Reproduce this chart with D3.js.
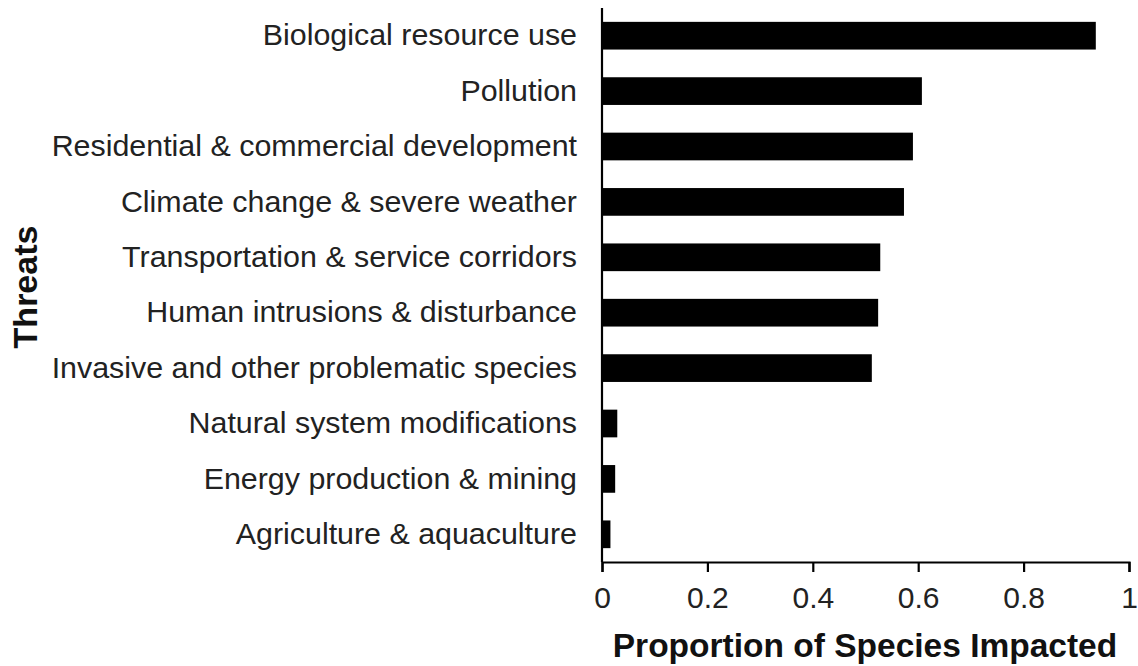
<!DOCTYPE html>
<html>
<head>
<meta charset="utf-8">
<script src="https://cdn.jsdelivr.net/npm/d3@7"></script>
<style>
  body { margin: 0; background: #fff; }
  text { font-family: "Liberation Sans", Arial, sans-serif; }
</style>
</head>
<body>
<svg id="svg" width="1138" height="666"></svg>
<script>
// threats, top to bottom
const threats = [
  "Biological resource use",
  "Pollution",
  "Residential & commercial development",
  "Climate change & severe weather",
  "Transportation & service corridors",
  "Human intrusions & disturbance",
  "Invasive and other problematic species",
  "Natural system modifications",
  "Energy production & mining",
  "Agriculture & aquaculture"
];
const proportion = [0.937, 0.607, 0.590, 0.573, 0.528, 0.524, 0.512, 0.029, 0.025, 0.016];
const xTicks = [0, 0.2, 0.4, 0.6, 0.8, 1];

const margin = { top: 8, right: 9, bottom: 104, left: 602 };
const width = 1138, height = 666;

const svg = d3.select("#svg");

const x = d3.scaleLinear().domain([0, 1]).range([margin.left, width - margin.right]);
const y = d3.scaleBand().domain(threats)
  .range([margin.top, height - margin.bottom])
  .paddingInner(0.5).paddingOuter(0.25);

// bars
svg.selectAll("rect")
  .data(threats)
  .enter()
  .append("rect")
  .attr("x", x(0))
  .attr("y", d => y(d))
  .attr("width", (d, i) => x(proportion[i]) - x(0))
  .attr("height", y.bandwidth())
  .attr("fill", "#000");

// x axis
const xAxis = svg.append("g")
  .attr("transform", `translate(0,${height - margin.bottom})`)
  .call(d3.axisBottom(x).tickValues(xTicks).tickFormat(d3.format("~g"))
    .tickSizeInner(10).tickSizeOuter(10).tickPadding(15));
xAxis.selectAll("path, line").attr("stroke", "#000").attr("stroke-width", 2.2);
xAxis.selectAll("text").attr("font-size", 30).attr("fill", "#222");

// y axis
const yAxis = svg.append("g")
  .attr("transform", `translate(${margin.left},0)`)
  .call(d3.axisLeft(y).tickSize(0).tickPadding(25));
yAxis.select(".domain").attr("d", `M0,${margin.top}V${height - margin.bottom}`)
  .attr("stroke", "#000").attr("stroke-width", 2.2);
yAxis.selectAll("text").attr("font-size", 30.4).attr("fill", "#222");

// titles
svg.append("text")
  .attr("x", 865)
  .attr("y", 657)
  .attr("text-anchor", "middle")
  .attr("font-size", 33.5)
  .attr("font-weight", "bold")
  .attr("fill", "#111")
  .text("Proportion of Species Impacted");

svg.append("text")
  .attr("transform", `translate(37,287) rotate(-90)`)
  .attr("text-anchor", "middle")
  .attr("font-size", 34)
  .attr("font-weight", "bold")
  .attr("fill", "#111")
  .text("Threats");
</script>
</body>
</html>
